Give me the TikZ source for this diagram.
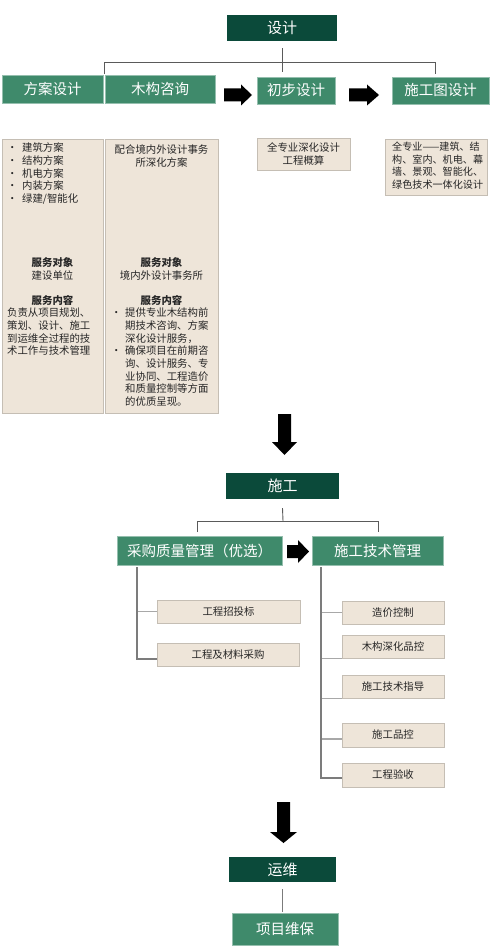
\documentclass[tikz,border=0pt]{standalone}
\usepackage{fontspec}
\setmainfont{Noto Sans CJK SC}
\usetikzlibrary{calc}
\definecolor{dkgreen}{HTML}{0B4A3A}
\definecolor{mdgreen}{HTML}{3F8A6B}
\definecolor{beigef}{HTML}{EEE5D9}
\definecolor{beiged}{HTML}{C5BEB4}
\definecolor{lineg}{HTML}{5A5A5A}
\definecolor{treeg}{HTML}{7C7C7C}
\definecolor{branchg}{HTML}{A8A8A8}
\begin{document}
\begin{tikzpicture}[x=1pt,y=-1pt,
 dkbox/.style={fill=dkgreen, draw=none, text=white, font=\fontsize{15}{18}\selectfont, inner sep=0pt},
 mdbox/.style={fill=mdgreen, draw=mdgreen!55!white, line width=0.8pt, text=white, font=\fontsize{14.5}{18}\selectfont, inner sep=0pt},
 bgbox/.style={fill=beigef, draw=beiged, line width=0.8pt, inner sep=0pt},
 txt/.style={font=\fontsize{10.4}{12.7}\selectfont, inner sep=0pt, text=black!85},
 conn/.style={draw=lineg, line width=0.9pt},
 tree/.style={draw=treeg, line width=1.3pt},
 branch/.style={draw=branchg, line width=1.1pt},
 blk/.style={fill=black, draw=none},
]
\useasboundingbox (0,0) rectangle (496,952);
\fill[white] (0,0) rectangle (496,952);

% ---------- Design ----------
\node[dkbox, minimum width=110pt, minimum height=26pt] (sheji) at (282,28) {设计};
\node[mdbox, minimum width=101pt, minimum height=28pt] (fangan) at (52.5,89) {方案设计};
\node[mdbox, minimum width=110pt, minimum height=28pt] (mugou) at (160,89) {木构咨询};
\node[mdbox, minimum width=78pt, minimum height=27pt] (chubu) at (296,90.5) {初步设计};
\node[mdbox, minimum width=97pt, minimum height=27pt] (shigongtu) at (440.5,90.5) {施工图设计};

\draw[conn] ([yshift=-7pt]sheji.south) -- (sheji.south |- 0,72);
\coordinate (busL) at (104,62);
\coordinate (busR) at (435,62);
\draw[conn] (busL |- 0,74) -- (busL) -- (busR) -- (busR |- 0,74);

\fill[blk] (224,88.5) -- (241,88.5) -- (241,84.5) -- (252,95) -- (241,105.5) -- (241,101.5) -- (224,101.5) -- cycle;
\fill[blk] (349,88.5) -- (367,88.5) -- (367,84.5) -- (379,95) -- (367,105.5) -- (367,101.5) -- (349,101.5) -- cycle;

\node[bgbox, minimum width=101pt, minimum height=274pt] (fanganC) at (52.5,276) {};
\node[bgbox, minimum width=113pt, minimum height=274pt] (mugouC) at (161.5,276) {};
\node[bgbox, txt, align=center, minimum width=93pt, minimum height=32pt] (chubuC) at (303.5,154) {全专业深化设计\\工程概算};
\node[bgbox, minimum width=102pt, minimum height=56pt] (shigongtuC) at (436,167) {};

% texts in 方案设计
\node[txt, anchor=north west, align=left] (faL) at (7,142.8)
 {\makebox[15pt][l]{\textbullet}建筑方案\\
  \makebox[15pt][l]{\textbullet}结构方案\\
  \makebox[15pt][l]{\textbullet}机电方案\\
  \makebox[15pt][l]{\textbullet}内装方案\\
  \makebox[15pt][l]{\textbullet}绿建/智能化};
\node[txt, anchor=north, align=center] (faO) at (52.5,257.8) {\textbf{服务对象}\\建设单位};
\node[txt] (faN) at (52.5,300) {\textbf{服务内容}};
\node[txt, anchor=north west, align=left] (faP) at (7,307.8)
 {负责从项目规划、\\策划、设计、施工\\到运维全过程的技\\术工作与技术管理};

% texts in 木构咨询
\node[txt, anchor=north, align=center] (muI) at (161.5,144.8) {配合境内外设计事务\\所深化方案};
\node[txt, anchor=north, align=center] (muO) at (161.5,257.8) {\textbf{服务对象}\\境内外设计事务所};
\node[txt] (muN) at (161.5,300) {\textbf{服务内容}};
\node[txt, anchor=north west, align=left] (muP) at (111,307.8)
 {\makebox[14pt][l]{\textbullet}提供专业木结构前\\
  \hspace*{14pt}期技术咨询、方案\\
  \hspace*{14pt}深化设计服务，\\
  \makebox[14pt][l]{\textbullet}确保项目在前期咨\\
  \hspace*{14pt}询、设计服务、专\\
  \hspace*{14pt}业协同、工程造价\\
  \hspace*{14pt}和质量控制等方面\\
  \hspace*{14pt}的优质呈现。};

% text in 施工图设计
\node[txt, font=\fontsize{10.1}{12.6}\selectfont, anchor=north west, align=left] (sgT) at (392,141.8)
 {全专业——建筑、结\\构、室内、机电、幕\\墙、景观、智能化、\\绿色技术一体化设计};

% ---------- Arrow down ----------
\fill[blk] (278,414) -- (291,414) -- (291,442) -- (297,442) -- (284.5,455) -- (272,442) -- (278,442) -- cycle;

% ---------- Construction ----------
\node[dkbox, minimum width=113pt, minimum height=26pt] (shigong) at (282.5,486) {施工};
\node[mdbox, minimum width=165pt, minimum height=29pt] (caigou) at (199.5,550.5) {采购质量管理（优选）};
\node[mdbox, minimum width=131pt, minimum height=29pt] (jishu) at (377.5,550.5) {施工技术管理};

\draw[conn] ([yshift=-9pt]shigong.south) -- (283,521);
\draw[conn] (197,532) -- (197,521) -- (378,521) -- (378,532);

\fill[blk] (287,545) -- (298,545) -- (298,540) -- (309,551.5) -- (298,563) -- (298,558) -- (287,558) -- cycle;

\node[bgbox, txt, minimum width=143pt, minimum height=23pt] (zhaotou) at (228.5,611.5) {工程招投标};
\node[bgbox, txt, minimum width=142pt, minimum height=23pt] (cailiao) at (228,654.5) {工程及材料采购};

\node[bgbox, txt, minimum width=102pt, minimum height=23pt] (zaojia) at (393,612.5) {造价控制};
\node[bgbox, txt, minimum width=102pt, minimum height=23pt] (shenhua) at (393,646.5) {木构深化品控};
\node[bgbox, txt, minimum width=102pt, minimum height=23pt] (zhidao) at (393,686.5) {施工技术指导};
\node[bgbox, txt, minimum width=102pt, minimum height=24pt] (pinkong) at (393,735) {施工品控};
\node[bgbox, txt, minimum width=102pt, minimum height=24pt] (yanshou) at (393,775) {工程验收};

\coordinate (lt) at (137,567);
\coordinate (rt) at (321,567);
\draw[branch] (zhaotou.west) -- (zhaotou.west -| lt);
\draw[tree] (lt) -- (lt |- 0,659) -- ([yshift=-4.5pt]cailiao.west);

\draw[branch] (zaojia.west) -- (zaojia.west -| rt);
\draw[branch] (shenhua.south west) -- (shenhua.south west -| rt);
\draw[branch] (zhidao.south west) -- (zhidao.south west -| rt);
\draw[branch] ([yshift=-4pt]pinkong.west) -- ([yshift=-4pt]pinkong.west -| rt);
\draw[tree] (rt) -- (rt |- 0,778) -- ([yshift=-3pt]yanshou.west);

% ---------- Arrow down ----------
\fill[blk] (277,802) -- (290,802) -- (290,832) -- (297,832) -- (283.5,843) -- (270,832) -- (277,832) -- cycle;

% ---------- Operation ----------
\node[dkbox, minimum width=107pt, minimum height=25pt] (yunwei) at (282.5,869.5) {运维};
\node[mdbox, minimum width=106pt, minimum height=32pt] (weibao) at (285,929) {项目维保};
\draw[conn, draw=lineg!80] ([yshift=-7pt]yunwei.south) -- ([yshift=1pt]yunwei.south |- weibao.north);
\end{tikzpicture}
\end{document}
